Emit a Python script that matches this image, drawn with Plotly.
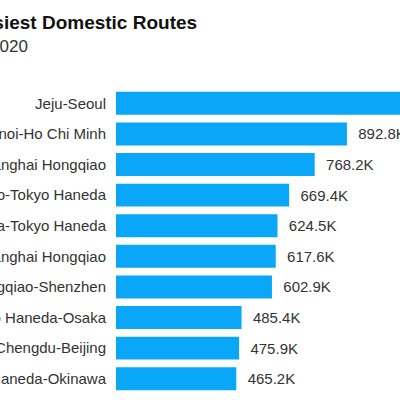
import plotly.graph_objects as go

# Seats (thousands) on the busiest domestic routes
routes = [
    'Jeju-Seoul',
    'Hanoi-Ho Chi Minh',
    'Beijing-Shanghai Hongqiao',
    'Sapporo-Tokyo Haneda',
    'Fukuoka-Tokyo Haneda',
    'Shenzhen-Shanghai Hongqiao',
    'Shanghai Hongqiao-Shenzhen',
    'Tokyo Haneda-Osaka',
    'Chengdu-Beijing',
    'Tokyo Haneda-Okinawa',
]
seats_k = [1230.0, 892.8, 768.2, 669.4, 624.5, 617.6, 602.9, 485.4, 475.9, 465.2]

title_text = 'Busiest Domestic Routes'
subtitle_text = 'Scheduled seats, September 2020'

FONT = 'Liberation Sans, Arial, sans-serif'
BAR_COLOR = '#0aa6f8'

fig = go.Figure(go.Bar(
    x=seats_k,
    y=routes,
    orientation='h',
    marker=dict(color=BAR_COLOR, line=dict(width=0)),
    texttemplate='  %{x:.1f}K',
    textposition='outside',
    textfont=dict(family=FONT, size=15, color='#333333'),
    cliponaxis=True,
    hoverinfo='skip',
))

fig.update_layout(
    width=400,
    height=400,
    margin=dict(l=116, r=0, t=88, b=6),
    paper_bgcolor='white',
    plot_bgcolor='white',
    bargap=0.25,
    showlegend=False,
    font=dict(family=FONT, size=15, color='#333333'),
)

fig.update_xaxes(range=[0, 1098], visible=False, fixedrange=True)
fig.update_yaxes(
    autorange='reversed',
    showgrid=False,
    showline=False,
    ticks='',
    ticklabelstandoff=9,
    tickfont=dict(family=FONT, size=15, color='#333333'),
    automargin=False,
    fixedrange=True,
)

# title and subtitle, left part cut off as in the cropped source
fig.add_annotation(
    text='<b>' + title_text + '</b>',
    xref='paper', yref='paper', x=0.292, y=1.214,
    xanchor='right', yanchor='middle', showarrow=False,
    font=dict(family=FONT, size=19, color='#111111'),
)
fig.add_annotation(
    text=subtitle_text,
    xref='paper', yref='paper', x=-0.303, y=1.137,
    xanchor='right', yanchor='middle', showarrow=False,
    font=dict(family=FONT, size=17, color='#333333'),
)

fig.write_html('out.html', config={'displayModeBar': False},
               post_script="document.body.style.margin='0';")
